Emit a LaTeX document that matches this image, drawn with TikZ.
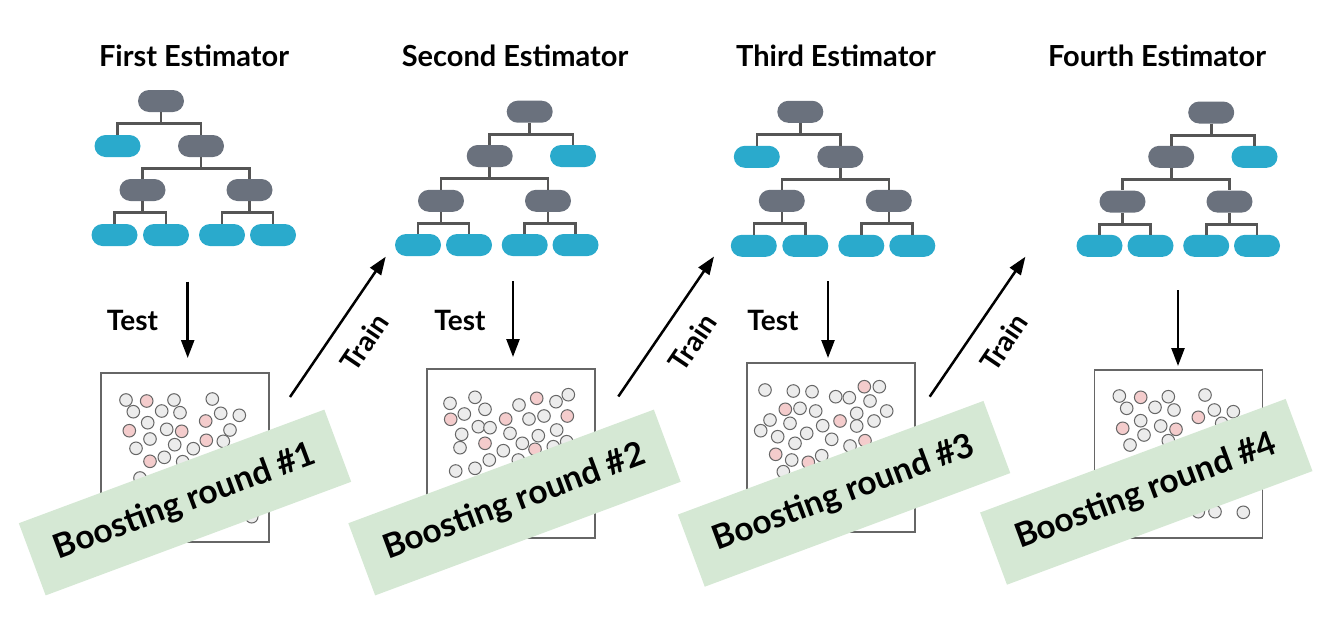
\documentclass[tikz,border=0pt]{standalone}
\usepackage{fontspec}
\setmainfont{Lato}
\usetikzlibrary{arrows.meta}
\definecolor{innergray}{HTML}{6A717D}
\definecolor{leafcyan}{HTML}{2AAACC}
\definecolor{edgegray}{HTML}{555555}
\definecolor{boxgray}{HTML}{666666}
\definecolor{dotfill}{HTML}{ECECEC}
\definecolor{dotpink}{HTML}{F4CCCC}
\definecolor{bannergreen}{HTML}{D5E8D4}
\tikzset{
  innernode/.style={fill=innergray, minimum width=46pt, minimum height=22pt, rounded corners=11pt, inner sep=0pt},
  leafnode/.style={fill=leafcyan, minimum width=46pt, minimum height=22pt, rounded corners=11pt, inner sep=0pt},
  edge/.style={draw=edgegray, line width=2.6pt},
  flow/.style={draw=black, line width=2.5pt, -{Triangle[width=13pt,length=18pt]}},
  title/.style={font=\fontsize{29}{29}\selectfont\bfseries, anchor=base},
  lbl/.style={font=\fontsize{28}{28}\selectfont\bfseries},
  databox/.style={draw=boxgray, line width=1.3pt, fill=white},
  dg/.style={draw=boxgray, line width=1pt, fill=dotfill},
  dp/.style={draw=boxgray, line width=1pt, fill=dotpink},
  banner/.style={fill=bannergreen, minimum width=326pt, minimum height=77pt, inner sep=0pt, font=\fontsize{33.5}{33.5}\selectfont\bfseries},
}
\newcommand{\treeA}[1]{%
  \node[innernode] (#1r) at (161,101) {};
  \node[leafnode] (#1l1) at (117.5,146) {};
  \node[innernode] (#1i1) at (201,146) {};
  \node[innernode] (#1i2) at (142.5,190) {};
  \node[innernode] (#1i3) at (249.5,190) {};
  \node[leafnode] (#1a) at (114.5,235) {};
  \node[leafnode] (#1b) at (166,235) {};
  \node[leafnode] (#1c) at (222,235) {};
  \node[leafnode] (#1d) at (273,235) {};
  \draw[edge] (#1r.south) -- ++(0,11.5) -| (#1l1.north);
  \draw[edge] (#1r.south) -- ++(0,11.5) -| (#1i1.north);
  \draw[edge] (#1i1.south) -- ++(0,11.5) -| (#1i2.north);
  \draw[edge] (#1i1.south) -- ++(0,11.5) -| (#1i3.north);
  \draw[edge] (#1i2.south) -- ++(0,11.5) -| (#1a.north);
  \draw[edge] (#1i2.south) -- ++(0,11.5) -| (#1b.north);
  \draw[edge] (#1i3.south) -- ++(0,11.5) -| (#1c.north);
  \draw[edge] (#1i3.south) -- ++(0,11.5) -| (#1d.north);
}
\newcommand{\treeB}[1]{%
  \node[innernode] (#1r) at (529.7,111.7) {};
  \node[innernode] (#1i1) at (489.7,156) {};
  \node[leafnode] (#1l1) at (573,156) {};
  \node[innernode] (#1i2) at (441,200.8) {};
  \node[innernode] (#1i3) at (548,200.8) {};
  \node[leafnode] (#1a) at (418,245) {};
  \node[leafnode] (#1b) at (469,245) {};
  \node[leafnode] (#1c) at (524.7,245) {};
  \node[leafnode] (#1d) at (575.5,245) {};
  \draw[edge] (#1r.south) -- ++(0,11.5) -| (#1l1.north);
  \draw[edge] (#1r.south) -- ++(0,11.5) -| (#1i1.north);
  \draw[edge] (#1i1.south) -- ++(0,11.5) -| (#1i2.north);
  \draw[edge] (#1i1.south) -- ++(0,11.5) -| (#1i3.north);
  \draw[edge] (#1i2.south) -- ++(0,11.5) -| (#1a.north);
  \draw[edge] (#1i2.south) -- ++(0,11.5) -| (#1b.north);
  \draw[edge] (#1i3.south) -- ++(0,11.5) -| (#1c.north);
  \draw[edge] (#1i3.south) -- ++(0,11.5) -| (#1d.north);
}
\begin{document}
\begin{tikzpicture}[x=1pt, y=-1pt]
\useasboundingbox (0,0) rectangle (1330,624);
% titles
\node[title] (t1) at (194,66) {First Estimator};
\node[title] (t2) at (515,66) {Second Estimator};
\node[title] (t3) at (836,66) {Third Estimator};
\node[title] (t4) at (1157,66) {Fourth Estimator};
% trees
\treeA{ta}
\treeB{tb}
\begin{scope}[shift={(639.3,10.8)}]\treeA{tc}\end{scope}
\begin{scope}[shift={(681.5,0.8)}]\treeB{td}\end{scope}
% data boxes
\node[databox, minimum width=168pt, minimum height=169pt, inner sep=0pt] (box1) at (185,457.5) {};
\node[databox, minimum width=168pt, minimum height=169pt, inner sep=0pt] (box2) at (511,453.5) {};
\node[databox, minimum width=168pt, minimum height=169pt, inner sep=0pt] (box3) at (831,447.5) {};
\node[databox, minimum width=168pt, minimum height=168pt, inner sep=0pt] (box4) at (1178.5,454) {};
% dots box 1
\foreach \x/\y in {126/400,174/400,212.3/399,133.3/411.7,161.7/411,180/412.7,220.7/413.3,239.3/415.3,147.7/422.7,166.7/429.3,230/430,150/439,174.7/444.7,136/448.3,193.3/448.7,223.3/441.3,164.3/457.3,182.7/461.7,140/478,251.7/516.7}
  \draw[dg] (\x,\y) circle[radius=6.3pt];
\foreach \x/\y in {146.7/401,205.7/421,129.3/430.7,181.7/431.3,206.3/440.3,150/461.3}
  \draw[dp] (\x,\y) circle[radius=6.3pt];
% dots box 2
\foreach \x/\y in {450/403.3,475/397.3,485/409.3,464.3/414,519/405,556/401.7,568.3/394.7,478.3/426.7,490/427.7,529/419,544/416,461.7/434.3,510/433.3,538.3/435.7,556.7/430,460/447.7,503.3/450.7,522.3/443.3,553.3/446.7,566.7/441.7,455.7/471,475/468.3,489.3/460,518.3/460}
  \draw[dg] (\x,\y) circle[radius=6.3pt];
\foreach \x/\y in {450.7/419.3,536.7/398.3,505.7/419,567.3/416,485/443.3,535/449.3}
  \draw[dp] (\x,\y) circle[radius=6.3pt];
% dots box 3
\foreach \x/\y in {765/390,793.3/391,812/391.7,835.7/396.7,849.3/397.7,879.3/386.7,870/401,800/408.3,815.7/411,856.7/413.3,886.7/411,770/420,790/423.3,760.7/430.7,874/421,856.7/426,822.7/425.7,777.7/436.7,806.7/433.3,831.7/439.3,795/443.3,850/446,791.7/460,821.7/455.7,783.3/471.7}
  \draw[dg] (\x,\y) circle[radius=6.3pt];
\foreach \x/\y in {864.3/386.7,785.3/409.3,840/421,865/440.7,775.7/454.3,808.3/462.3}
  \draw[dp] (\x,\y) circle[radius=6.3pt];
% dots box 4
\foreach \x/\y in {1119.3/396,1168.3/396.7,1205/395,1126.7/408.3,1155/407.3,1174/410,1214.3/410,1233.3/411.7,1140.7/420.7,1160.7/426,1221.7/423.3,1130/445,1144/435,1168.3/440.7,1215/511.7,1243.3/512.3,1198.3/511.7}
  \draw[dg] (\x,\y) circle[radius=6.3pt];
\foreach \x/\y in {1140.7/397.3,1198.3/417.3,1122.7/428.3,1176/429.3}
  \draw[dp] (\x,\y) circle[radius=6.3pt];
% test arrows
\coordinate (s1) at (187.7,281.7); \coordinate (e1) at (187.7,358);
\coordinate (s2) at (513,281); \coordinate (e2) at (513,357);
\coordinate (s3) at (828,281); \coordinate (e3) at (828,358);
\coordinate (s4) at (1178,290); \coordinate (e4) at (1178,366);
\draw[flow] (s1) -- (e1);
\draw[flow] (s2) -- (e2);
\draw[flow] (s3) -- (e3);
\draw[flow] (s4) -- (e4);
\node[lbl] (test1) at (132.5,320) {Test};
\node[lbl] (test2) at (460,320) {Test};
\node[lbl] (test3) at (773,320) {Test};
% train arrows
\coordinate (r1) at (290,397); \coordinate (q1) at (385.7,256.7);
\coordinate (r2) at (618.3,396.5); \coordinate (q2) at (714,256.5);
\coordinate (r3) at (929.7,396.7); \coordinate (q3) at (1025.4,256.7);
\draw[flow] (r1) -- (q1);
\draw[flow] (r2) -- (q2);
\draw[flow] (r3) -- (q3);
\node[lbl, rotate=56] (train1) at (364.5,342.5) {Train};
\node[lbl, rotate=56] (train2) at (692.6,342.5) {Train};
\node[lbl, rotate=56] (train3) at (1004,342.5) {Train};
% banners
\node[banner, rotate=20.4] (ban1) at (185,502.5) {Boosting round \#1};
\node[banner, rotate=20.4] (ban2) at (514.5,502.5) {Boosting round \#2};
\node[banner, rotate=20.4] (ban3) at (844.1,493.8) {Boosting round \#3};
\node[banner, rotate=20.4] (ban4) at (1146.3,491.8) {Boosting round \#4};
\end{tikzpicture}
\end{document}
